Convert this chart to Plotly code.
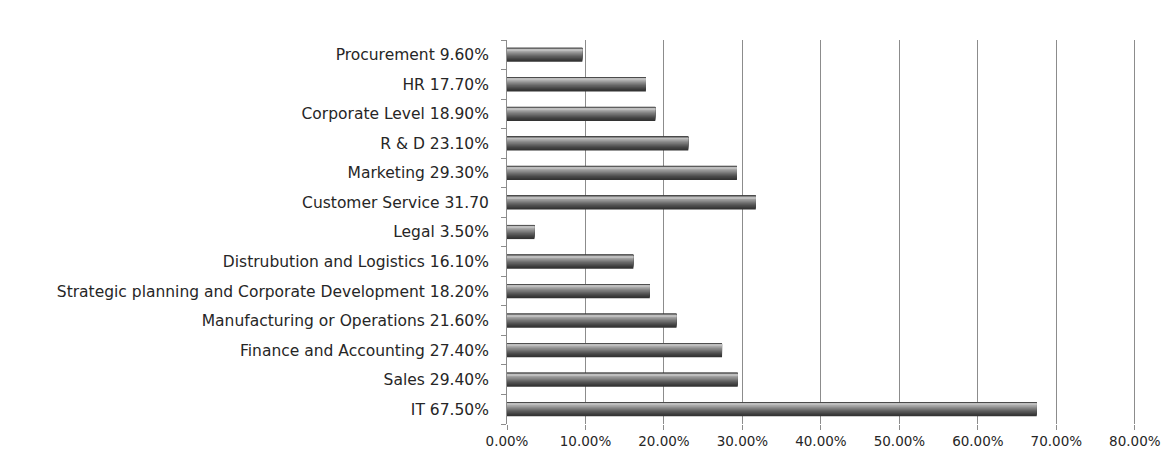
import plotly.graph_objects as go

# Share of respondents by function (bottom to top)
functions = [
    "IT", "Sales", "Finance and Accounting", "Manufacturing or Operations",
    "Strategic planning and Corporate Development", "Distrubution and Logistics",
    "Legal", "Customer Service", "Marketing", "R & D", "Corporate Level", "HR",
    "Procurement",
]
shares = [67.5, 29.4, 27.4, 21.6, 18.2, 16.1, 3.5, 31.7, 29.3, 23.1, 18.9, 17.7, 9.6]
tick_labels = [
    "IT 67.50%", "Sales 29.40%", "Finance and Accounting 27.40%",
    "Manufacturing or Operations 21.60%",
    "Strategic planning and Corporate Development 18.20%",
    "Distrubution and Logistics 16.10%", "Legal 3.50%",
    "Customer Service 31.70", "Marketing 29.30%", "R & D 23.10%",
    "Corporate Level 18.90%", "HR 17.70%", "Procurement 9.60%",
]
x_ticks = [0, 10, 20, 30, 40, 50, 60, 70, 80]
x_tick_text = [f"{v:.2f}%" for v in x_ticks]

fig = go.Figure()

# Shading: nested bars, each narrower one lighter and pushed towards the
# top edge, so the bar reads as a rounded cylinder lit from above.
half = 0.24
steps = 12
dark, light = 0x33, 0xbe
for i in range(steps):
    t = i / (steps - 1)
    lo = -half + t * (half + 0.15)
    hi = half - t * 0.06
    g = int(dark + (light - dark) * t ** 1.3)
    color = f"rgb({g},{g},{g})"
    fig.add_trace(go.Bar(
        x=shares, y=functions, orientation="h",
        marker=dict(color=color, line=dict(width=0)),
        width=hi - lo, offset=lo,
        hoverinfo="skip", showlegend=False,
    ))

grid_color = "#8c8c8c"

fig.update_layout(
    width=1174, height=461,
    margin=dict(l=507, r=38, t=40, b=33),
    paper_bgcolor="white", plot_bgcolor="white",
    barmode="overlay",
    font=dict(family="DejaVu Sans, sans-serif", size=14, color="#262626"),
    xaxis=dict(
        range=[0, 80.15], tickvals=x_ticks, ticktext=x_tick_text,
        showgrid=True, gridcolor=grid_color, gridwidth=1,
        ticks="outside", ticklen=5, tickcolor=grid_color,
        showline=False, zeroline=False, fixedrange=True,
        tickfont=dict(size=13.5),
    ),
    yaxis=dict(
        type="category", categoryorder="array", categoryarray=functions,
        tickvals=functions, ticktext=tick_labels,
        tickson="boundaries", ticks="outside", ticklen=5, tickcolor=grid_color,
        showline=True, linecolor=grid_color, linewidth=1,
        showgrid=False, zeroline=False, ticklabelstandoff=14,
        tickfont=dict(size=15.5),
    ),
)

fig.write_html("out.html")
